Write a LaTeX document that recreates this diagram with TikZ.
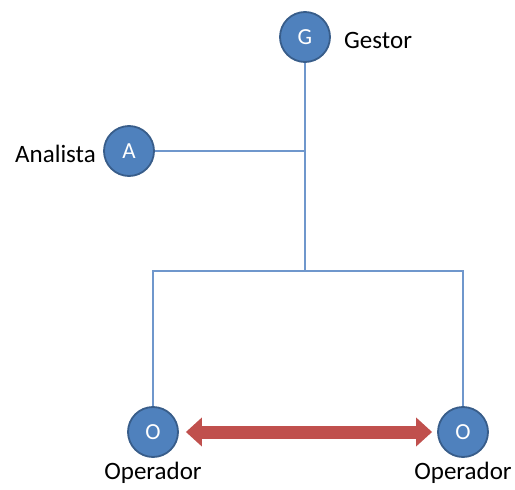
\documentclass[tikz,border=0pt]{standalone}
\usepackage{fontspec}
\setmainfont{Carlito}
\usetikzlibrary{arrows.meta}
\definecolor{roleblue}{HTML}{4F81BD}
\definecolor{roleedge}{HTML}{385D8A}
\definecolor{linkblue}{HTML}{6F97CC}
\definecolor{peerred}{HTML}{C0504D}

\begin{document}
\begin{tikzpicture}[x=1pt,y=-1pt,
  role/.style={circle,fill=roleblue,draw=roleedge,line width=1.8pt,
    minimum size=50pt,inner sep=0pt,text=white,font=\fontsize{23}{26}\selectfont},
  caption/.style={font=\fontsize{25}{30}\selectfont,inner sep=0pt},
  link/.style={draw=linkblue,line width=1.3pt},
  peer/.style={draw=peerred,line width=13pt,
    {Triangle[width=28pt,length=16pt]}-{Triangle[width=28pt,length=16pt]},
    shorten <=7pt,shorten >=5pt}]

  \useasboundingbox[fill=white] (0,0) rectangle (515,490);

  \node[role] (g) at (305,37) {G};
  \node[role] (a) at (129,151) {A};
  \node[role] (o1) at (153,432) {O};
  \node[role] (o2) at (463,432) {O};

  \coordinate (ja) at (305,151);
  \coordinate (jo) at (305,271);

  \node[caption,anchor=west] (lg) at (344,40) {Gestor};
  \node[caption,anchor=east] (la) at (96,154) {Analista};
  \node[caption] (lo1) at (153,473) {Operador};
  \node[caption] (lo2) at (463,473) {Operador};

  % hierarchy lines
  \draw[link] (g) -- (jo);
  \draw[link] (a) -- (ja);
  \draw[link] (o1) |- (jo) -| (o2);

  % peer exchange
  \draw[peer] (o1) -- (o2);
\end{tikzpicture}
\end{document}
